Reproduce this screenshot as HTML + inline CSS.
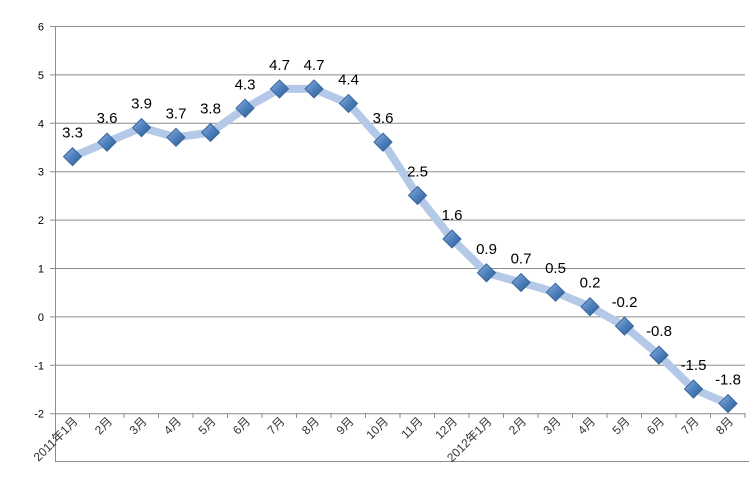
<!DOCTYPE html>
<html><head><meta charset="utf-8"><style>
html,body{margin:0;padding:0;background:#fff;}
</style></head><body>
<svg width="749" height="478" xmlns="http://www.w3.org/2000/svg" font-family="Liberation Sans, Noto Sans CJK SC, sans-serif">
<defs>
<linearGradient id="g" x1="0" y1="0" x2="1" y2="1">
<stop offset="0" stop-color="#8db3e2"/><stop offset="0.5" stop-color="#4f81bd"/><stop offset="1" stop-color="#2c5a8f"/>
</linearGradient>
</defs>
<g id="grid" stroke="#8c8c8c" stroke-width="1"></g>
<g id="yl" font-size="11" fill="#000" text-anchor="end"></g>
<g id="xl" font-size="12" fill="#333" text-anchor="end"></g>
<polyline id="ln" fill="none" stroke="#b4c8e8" stroke-width="8" stroke-linejoin="round"/>
<g id="mk"></g>
<g id="dl" font-size="15" fill="#000" text-anchor="middle"></g>
</svg>
<script>
var ns="http://www.w3.org/2000/svg";
function el(p,t,a,txt){var e=document.createElementNS(ns,t);for(var k in a)e.setAttribute(k,a[k]);if(txt!=null)e.textContent=txt;document.getElementById(p).appendChild(e);return e;}
function Y(v){return 26+(6-v)*48.4;}
for(var v=-2;v<=6;v++){var y=Y(v)+0.5;el('grid','line',{x1:50,x2:745,y1:y,y2:y});el('yl','text',{x:44,y:y+4},v);}
el('grid','line',{x1:55.5,x2:55.5,y1:26,y2:461});
el('grid','line',{x1:55,x2:749,y1:461.5,y2:461.5});
var d=[3.3,3.6,3.9,3.7,3.8,4.3,4.7,4.7,4.4,3.6,2.5,1.6,0.9,0.7,0.5,0.2,-0.2,-0.8,-1.5,-1.8];
var lab=["2011年1月","2月","3月","4月","5月","6月","7月","8月","9月","10月","11月","12月","2012年1月","2月","3月","4月","5月","6月","7月","8月"];
var pts=[];
for(var i=0;i<20;i++){
 var bx=55+34.5*(i+1);
 el('grid','line',{x1:bx,x2:bx,y1:413,y2:418});
 var cx=72.5+34.5*i, cy=Y(d[i]);pts.push(cx+','+cy);
 var lx=cx+6, ly=422;
 el('xl','text',{x:lx,y:ly,transform:'rotate(-45 '+lx+' '+ly+')'},lab[i]);
 el('dl','text',{x:cx,y:cy-19},d[i].toFixed(1));
}
document.getElementById('ln').setAttribute('points',pts.join(' '));
for(var i=0;i<20;i++){var p=pts[i].split(','),x=+p[0],y=+p[1];
 el('mk','polygon',{points:(x)+','+(y-9)+' '+(x+9)+','+y+' '+x+','+(y+9)+' '+(x-9)+','+y,fill:'url(#g)',stroke:'#3a659a','stroke-width':1});}
</script>
</body></html>
